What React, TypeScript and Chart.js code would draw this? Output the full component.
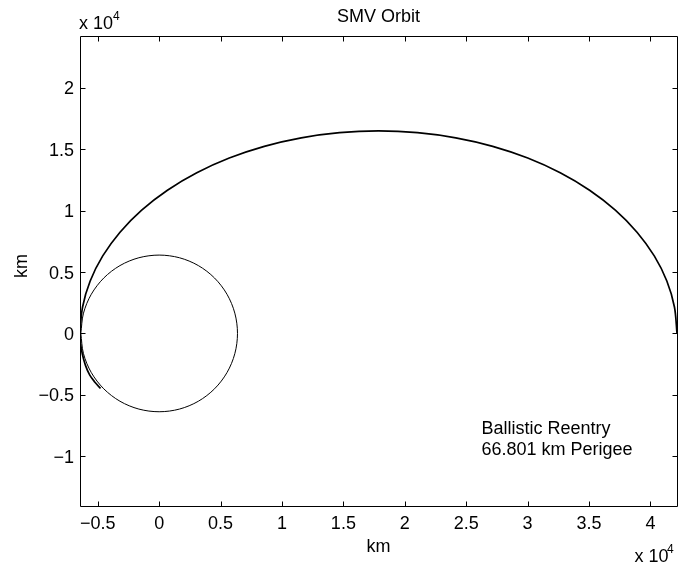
import React, { useEffect, useRef } from "react";
import { Chart, registerables } from "chart.js";

Chart.register(...registerables);

// Trajectory (km): apogee -> over the top -> perigee -> reentry tail
const ORBIT_X = [42164, 41956, 41336, 40314, 38908, 37142, 35046, 32655, 30012, 27161, 24150, 21032, 17860, 14688, 11570, 8559, 5708, 3065, 674, -1422, -3188, -4594, -5616, -6236, -6445, -6400, -6250, -6000, -5650, -5250, -4770];
const ORBIT_Y = [0, 2152, 4267, 6309, 8243, 10035, 11657, 13078, 14277, 15230, 15923, 16344, 16485, 16344, 15923, 15230, 14277, 13078, 11657, 10035, 8243, 6309, 4267, 2152, 0, -800, -1700, -2600, -3400, -3950, -4480];

// Earth outline (km)
const EARTH_X = [-6378, -6161, -5524, -4510, -3189, -1651, 0, 1651, 3189, 4510, 5524, 6161, 6378, 6161, 5524, 4510, 3189, 1651, 0, -1651, -3189, -4510, -5524, -6161, -6378];
const EARTH_Y = [0, -1651, -3189, -4510, -5524, -6161, -6378, -6161, -5524, -4510, -3189, -1651, 0, 1651, 3189, 4510, 5524, 6161, 6378, 6161, 5524, 4510, 3189, 1651, 0];

const X_TICKS = [-5000, 0, 5000, 10000, 15000, 20000, 25000, 30000, 35000, 40000];
const X_TICK_LABELS = ["\u22120.5", "0", "0.5", "1", "1.5", "2", "2.5", "3", "3.5", "4"];
const Y_TICKS = [-10000, -5000, 0, 5000, 10000, 15000, 20000];
const Y_TICK_LABELS = ["\u22121", "\u22120.5", "0", "0.5", "1", "1.5", "2"];

const X_LIMITS = [-6445, 42164];
const Y_LIMITS = [-14109, 24216];

const TITLE = "SMV Orbit";
const X_LABEL = "km";
const Y_LABEL = "km";
const NOTE_LINES = ["Ballistic Reentry", "66.801 km Perigee"];

const FONT = '"Liberation Sans", Arial, Helvetica, sans-serif';
const FS = 18;

const decorPlugin = {
  id: "matlabDecor",
  afterDraw(chart: any) {
    const { ctx, chartArea } = chart;
    const xs = chart.scales.x;
    const ys = chart.scales.y;
    const L = Math.round(chartArea.left) + 0.5;
    const R = Math.round(chartArea.right) + 0.5;
    const T = Math.round(chartArea.top) + 0.5;
    const B = Math.round(chartArea.bottom) - 0.5;
    ctx.save();
    ctx.strokeStyle = "#000";
    ctx.fillStyle = "#000";
    ctx.lineWidth = 1;
    // box
    ctx.beginPath();
    ctx.rect(L, T, R - L, B - T);
    ctx.stroke();
    const tl = 5;
    // ticks (inward, all four sides)
    ctx.beginPath();
    X_TICKS.forEach((v) => {
      const px = Math.round(xs.getPixelForValue(v)) + 0.5;
      ctx.moveTo(px, B);
      ctx.lineTo(px, B - tl);
      ctx.moveTo(px, T);
      ctx.lineTo(px, T + tl);
    });
    Y_TICKS.forEach((v) => {
      const py = Math.round(ys.getPixelForValue(v)) + 0.5;
      ctx.moveTo(L, py);
      ctx.lineTo(L + tl, py);
      ctx.moveTo(R, py);
      ctx.lineTo(R - tl, py);
    });
    ctx.stroke();

    ctx.font = `${FS}px ${FONT}`;
    ctx.textBaseline = "alphabetic";
    // x tick labels
    ctx.textAlign = "center";
    X_TICKS.forEach((v, i) => {
      const px = xs.getPixelForValue(v);
      ctx.fillText(X_TICK_LABELS[i], px, 529);
    });
    // y tick labels
    ctx.textAlign = "right";
    Y_TICKS.forEach((v, i) => {
      const py = ys.getPixelForValue(v);
      ctx.fillText(Y_TICK_LABELS[i], 74, py + 6.5);
    });

    // title
    ctx.textAlign = "center";
    ctx.fillText(TITLE, (chartArea.left + chartArea.right) / 2, 22);
    // x label
    ctx.fillText(X_LABEL, (chartArea.left + chartArea.right) / 2, 551.5);
    // y label
    ctx.save();
    ctx.translate(26.5, 266);
    ctx.rotate(-Math.PI / 2);
    ctx.textAlign = "center";
    ctx.fillText(Y_LABEL, 0, 0);
    ctx.restore();

    // exponent labels
    ctx.textAlign = "left";
    ctx.fillText("x 10", 79, 28.5);
    ctx.font = `12px ${FONT}`;
    ctx.fillText("4", 113, 20);
    ctx.font = `${FS}px ${FONT}`;
    ctx.fillText("x 10", 634.5, 561.5);
    ctx.font = `12px ${FONT}`;
    ctx.fillText("4", 667, 553);

    // annotation
    ctx.font = `${FS}px ${FONT}`;
    ctx.fillText(NOTE_LINES[0], 481.5, 434);
    ctx.fillText(NOTE_LINES[1], 481.5, 454.5);
    ctx.restore();
  },
};

export default function App() {
  const canvasRef = useRef<HTMLCanvasElement | null>(null);

  useEffect(() => {
    if (!canvasRef.current) return;
    const orbit = ORBIT_X.map((x, i) => ({ x, y: ORBIT_Y[i] }));
    const earth = EARTH_X.map((x, i) => ({ x, y: EARTH_Y[i] }));
    const chart = new Chart(canvasRef.current, {
      type: "scatter",
      data: {
        datasets: [
          {
            label: "Earth",
            data: earth,
            showLine: true,
            borderColor: "#000",
            borderWidth: 1,
            pointRadius: 0,
            tension: 0.33,
            fill: false,
          },
          {
            label: "Trajectory",
            data: orbit,
            showLine: true,
            borderColor: "#000",
            borderWidth: 1.7,
            pointRadius: 0,
            tension: 0.33,
            fill: false,
          },
        ],
      },
      options: {
        animation: false,
        responsive: false,
        devicePixelRatio: 1,
        events: [],
        layout: { padding: { top: 36, right: 1, bottom: 0, left: 0 } },
        plugins: {
          legend: { display: false },
          title: { display: false },
          tooltip: { enabled: false },
        },
        scales: {
          x: {
            type: "linear",
            min: X_LIMITS[0],
            max: X_LIMITS[1],
            grid: { display: false },
            border: { display: false },
            ticks: { display: false },
            afterFit: (scale: any) => {
              scale.height = 61.3;
            },
          },
          y: {
            type: "linear",
            min: Y_LIMITS[0],
            max: Y_LIMITS[1],
            grid: { display: false },
            border: { display: false },
            ticks: { display: false },
            afterFit: (scale: any) => {
              scale.width = 80;
            },
          },
        },
      },
      plugins: [decorPlugin],
    });
    return () => chart.destroy();
  }, []);

  return (
    <div style={{ position: "absolute", left: 0, top: 0, width: 678, height: 568, background: "#fff" }}>
      <canvas ref={canvasRef} width={678} height={568} style={{ display: "block" }} />
    </div>
  );
}
